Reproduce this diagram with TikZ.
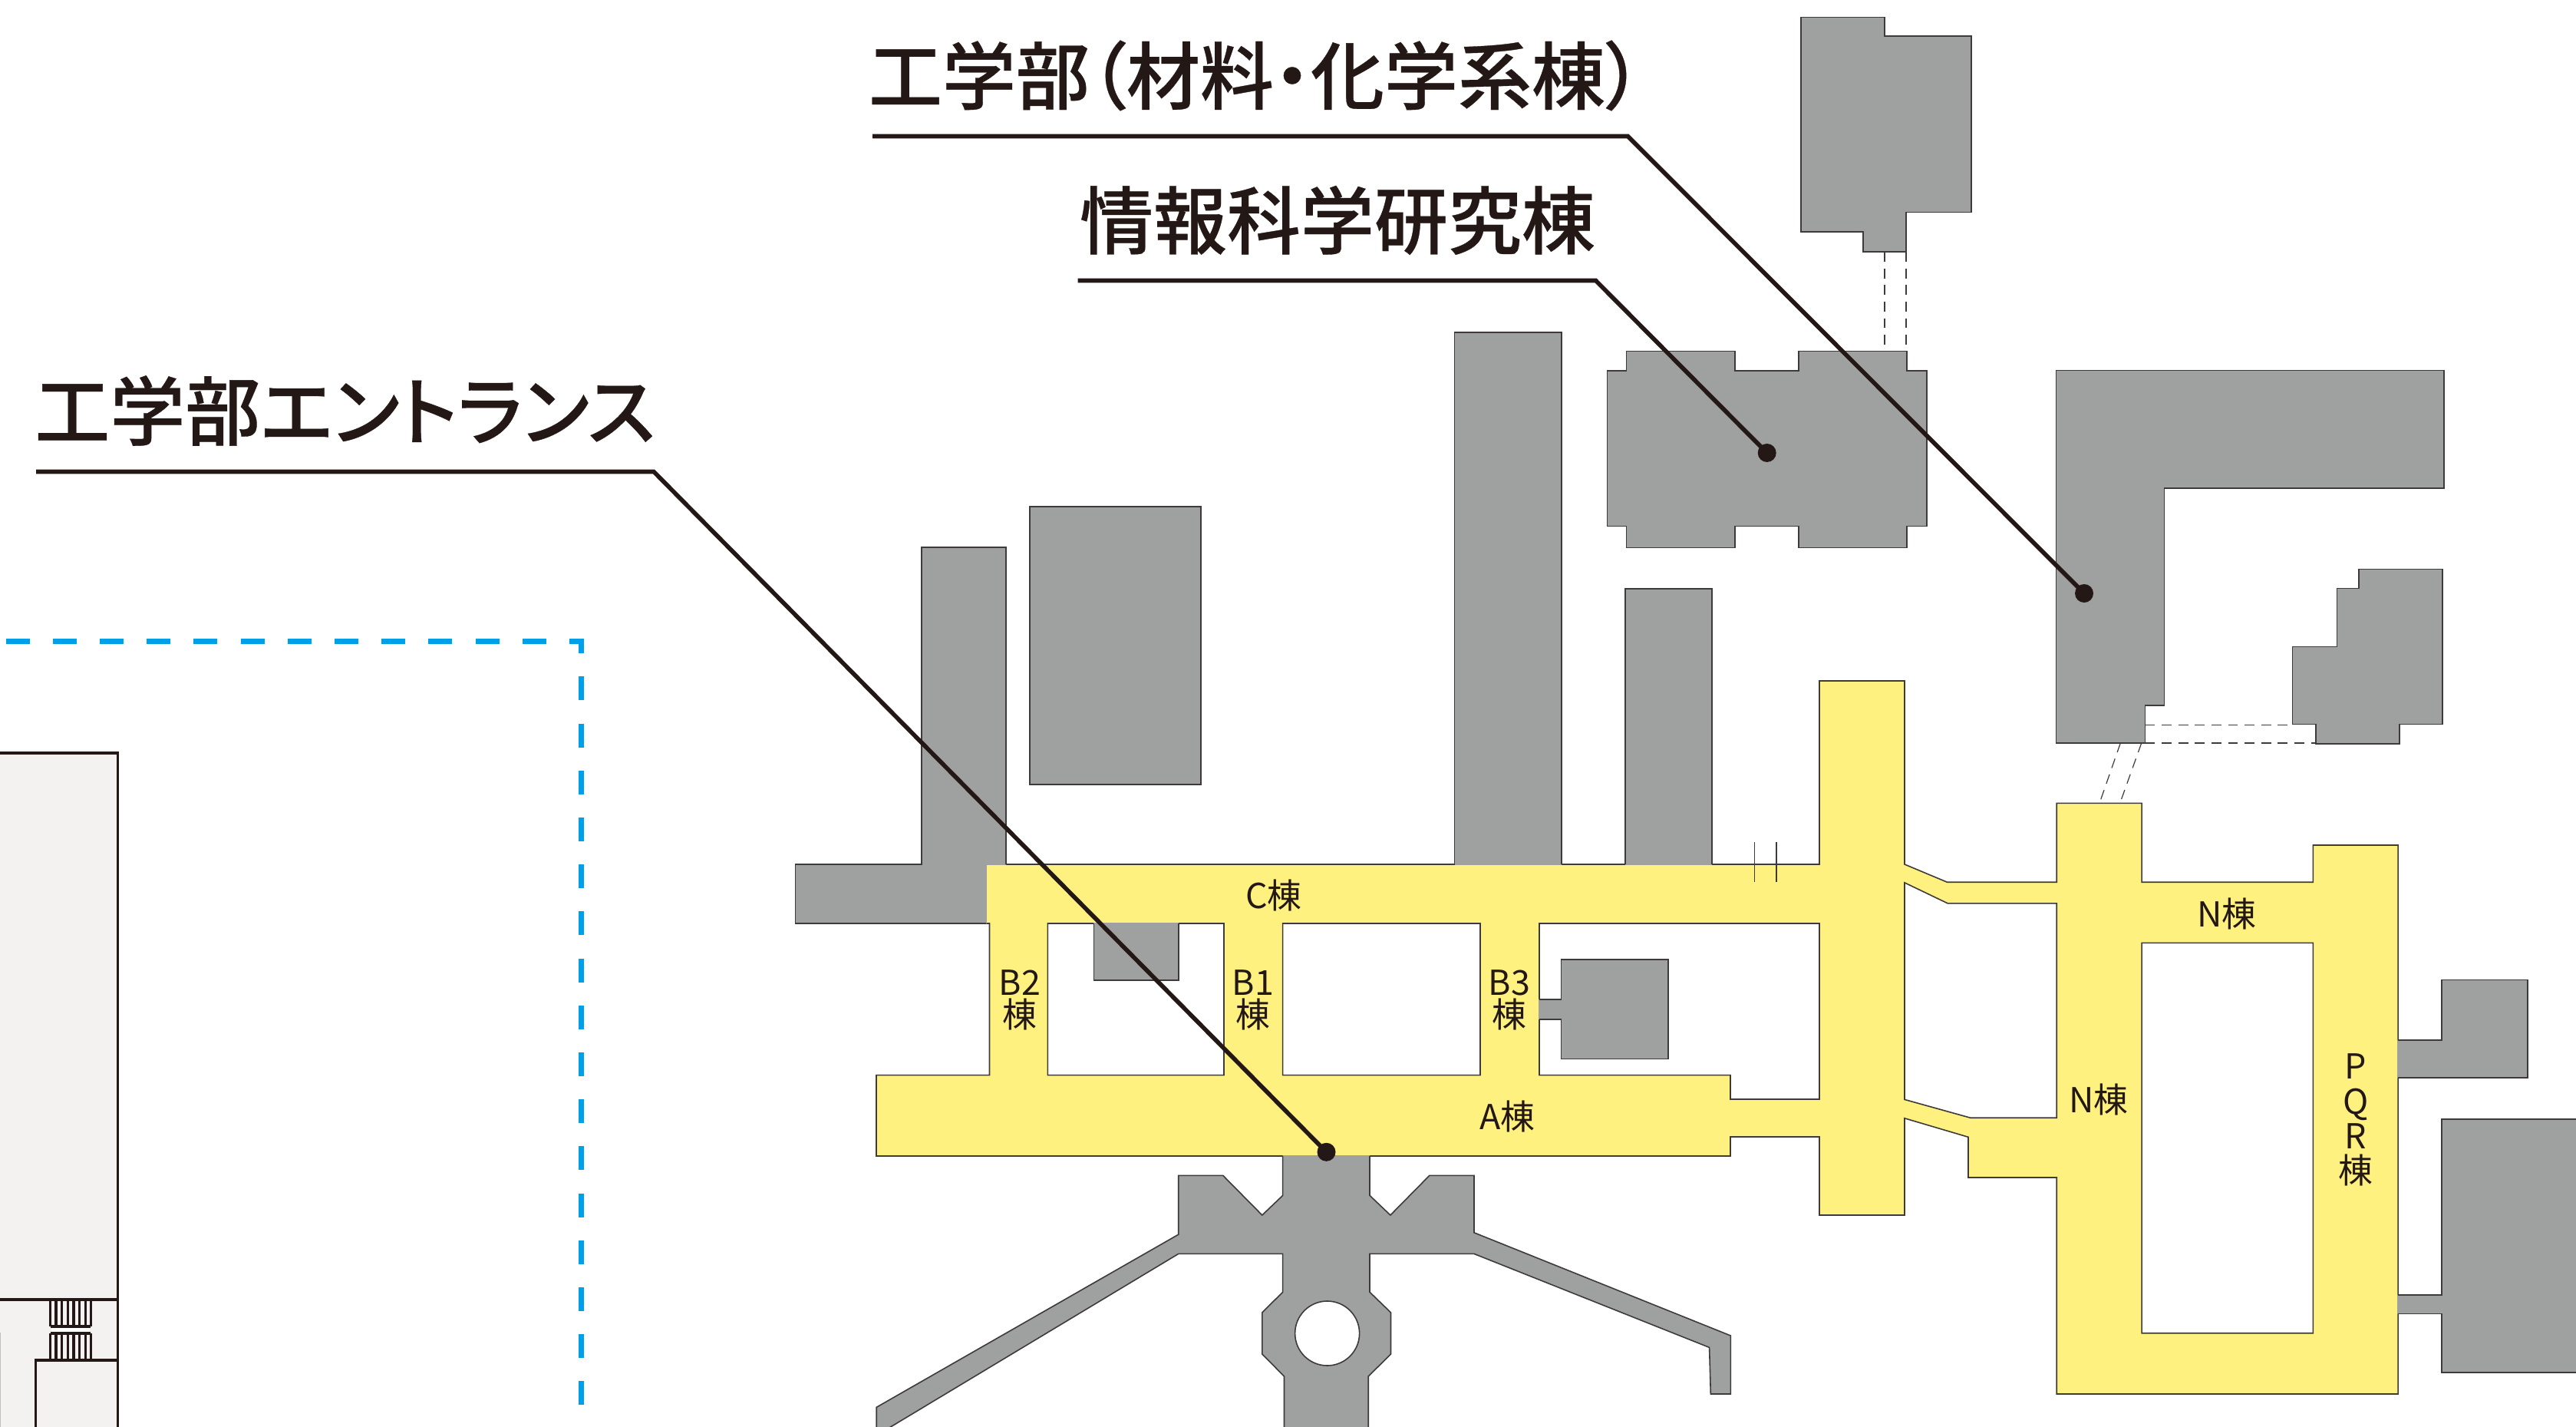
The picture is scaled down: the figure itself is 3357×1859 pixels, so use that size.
\documentclass[tikz,border=0pt]{standalone}
\usepackage{fontspec}
\setmainfont{Noto Sans CJK JP}
\newfontfamily\jphead[RawFeature={+palt},FakeBold=0.35]{Noto Sans CJK JP Medium}
\newfontfamily\jplab{Noto Sans CJK JP}
\definecolor{bldgray}{HTML}{9FA0A0}
\definecolor{wingyellow}{HTML}{FFF17F}
\definecolor{edgedark}{HTML}{3E3A39}
\definecolor{inkdark}{HTML}{231815}
\definecolor{roomfill}{HTML}{F3F2F0}
\definecolor{zoneblue}{HTML}{00A0E9}
\tikzset{
  edge/.style={draw=edgedark,line width=0.4pt,line join=miter},
  bld/.style={fill=bldgray,edge},
  grayfill/.style={fill=bldgray},
  passage/.style={draw=edgedark,line width=0.3pt,dash pattern=on 3.2pt off 2.2pt},
  tick/.style={draw=edgedark,line width=0.3pt},
  leader/.style={draw=inkdark,line width=1.4pt,line join=miter},
  dotmark/.style={fill=inkdark,draw=none},
  headlabel/.style={inner sep=0pt,text=inkdark,font=\jphead\fontsize{24}{24}\selectfont},
  headlabelwide/.style={headlabel,font=\jphead\fontsize{24.5}{24.5}\selectfont},
  wing/.style={inner sep=0pt,text=inkdark,align=center,font=\jplab\fontsize{11.2}{10.6}\selectfont},
  wingtall/.style={wing,font=\jplab\fontsize{11.2}{11.3}\selectfont},
  plan/.style={draw=inkdark,line width=0.8pt},
  zone/.style={draw=zoneblue,line width=1.65pt,dash pattern=on 7.75pt off 7.55pt,line join=miter},
}
\begin{document}
\begin{tikzpicture}[x=0.25pt,y=-0.25pt]
\useasboundingbox (0,0) rectangle (3357,1859);
\fill[white] (0,0) rectangle (3357,1859);
\clip (0,0) rectangle (3357,1859);

% zone boundary
\draw[zone] (7.6,835.8) -- (757.6,835.8) -- (757.6,1870);

% left building
\fill[roomfill] (-5,981) rectangle (153.7,1870);
\draw[plan] (-5,981) -- (153.7,981) -- (153.7,1870);
\draw[plan] (-5,1693) -- (153.7,1693);
\draw[plan] (65.7,1772) -- (153.7,1772);
\draw[plan] (46.7,1870) -- (46.7,1772) -- (65.7,1772);
\fill[white] (67,1728.5) rectangle (117,1736);
\foreach \sx in {65.7,73,80.7,88.3,96,103.7,111.3,118.3}{
  \draw[plan] (\sx,1693) -- (\sx,1728);
  \draw[plan] (\sx,1737) -- (\sx,1772);
}
\draw[plan] (65.7,1728) -- (118.3,1728);
\draw[plan] (65.7,1737) -- (118.3,1737);
\draw[draw=black!25,line width=0.25pt] (0.4,1736) -- (0.4,1870);

% yellow wings with their courts
\path[fill=wingyellow,even odd rule,edge]
  (1285,1126) -- (2371,1126) -- (2371,887) -- (2482,887) -- (2482,1126)
  -- (2537.4,1149.2) -- (2680.2,1149.2) -- (2680.2,1046.3) -- (2791,1046.3) -- (2791,1149.2)
  -- (3014.3,1149.2) -- (3014.3,1101) -- (3125,1101) -- (3125,1816) -- (2680.2,1816)
  -- (2680.2,1534) -- (2565,1534) -- (2565,1481.3) -- (2482,1456.8) -- (2482,1583)
  -- (2371,1583) -- (2371,1481) -- (2255,1481) -- (2255,1506) -- (1142,1506)
  -- (1142,1400.6) -- (1289.5,1400.6) -- (1289.5,1203) -- (1285,1203) -- cycle
  (1365.4,1203) rectangle (1595,1400.6)
  (1671.6,1203) rectangle (1929,1400.6)
  (2006,1203) -- (2371,1203) -- (2371,1432) -- (2255,1432) -- (2255,1400.6) -- (2006,1400.6) -- cycle
  (2791,1228.4) rectangle (3014.3,1736.7)
  (2482,1149.9) -- (2538.3,1176.9) -- (2680.2,1176.9) -- (2680.2,1456.2) -- (2567.7,1456.2) -- (2482,1432.4) -- cycle;

% gray buildings touching the wings
\fill[grayfill] (1201,713) -- (1311,713) -- (1311,1126.9) -- (1285.9,1126.9) -- (1285.9,1203) -- (1036.4,1203) -- (1036.4,1126) -- (1201,1126) -- cycle;
\draw[edge] (1285,1203) -- (1036.4,1203) -- (1036.4,1126) -- (1201,1126) -- (1201,713) -- (1311,713) -- (1311,1126);

\fill[grayfill] (1895.5,433) rectangle (2035,1126.9);
\draw[edge] (1895.5,1126) -- (1895.5,433) -- (2035,433) -- (2035,1126);
\fill[grayfill] (2118,767) rectangle (2231,1126.9);
\draw[edge] (2118,1126) -- (2118,767) -- (2231,767) -- (2231,1126);

\fill[grayfill] (1425.4,1202) rectangle (1535.7,1277);
\draw[edge] (1425.4,1203) -- (1425.4,1277) -- (1535.7,1277) -- (1535.7,1203);

\fill[grayfill] (2034.6,1250) -- (2174,1250) -- (2174,1379.6) -- (2034.6,1379.6) -- (2034.6,1328) -- (2005.1,1328) -- (2005.1,1301.7) -- (2034.6,1301.7) -- cycle;
\draw[edge] (2006,1301.7) -- (2034.6,1301.7) -- (2034.6,1250) -- (2174,1250) -- (2174,1379.6) -- (2034.6,1379.6) -- (2034.6,1328) -- (2006,1328);

\fill[grayfill] (3182,1276.6) -- (3293.8,1276.6) -- (3293.8,1404) -- (3124.1,1404) -- (3124.1,1355) -- (3182,1355) -- cycle;
\draw[edge] (3125,1355) -- (3182,1355) -- (3182,1276.6) -- (3293.8,1276.6) -- (3293.8,1404) -- (3125,1404);

\fill[grayfill] (3370,1458) -- (3182,1458) -- (3182,1687) -- (3124.1,1687) -- (3124.1,1711.6) -- (3182,1711.6) -- (3182,1788) -- (3370,1788) -- cycle;
\draw[edge] (3370,1458) -- (3182,1458) -- (3182,1687) -- (3125,1687);
\draw[edge] (3125,1711.6) -- (3182,1711.6) -- (3182,1788) -- (3370,1788);

% entrance plaza
\path[grayfill,even odd rule]
  (1671.6,1505.1) -- (1671.6,1557.4) -- (1644.8,1583) -- (1593.7,1531.3) -- (1535.7,1531.3) -- (1535.7,1608.2)
  -- (1142.2,1833.3) -- (1142.2,1870) -- (1535.7,1633.4) -- (1671.6,1633.4) -- (1671.6,1683.3)
  -- (1644.8,1709.9) -- (1644.8,1764) -- (1673.5,1793) -- (1673.5,1870) -- (1783.2,1870)
  -- (1783.2,1793) -- (1812.5,1764) -- (1812.5,1709.9) -- (1785,1683.3) -- (1785,1633.4)
  -- (1921,1633.4) -- (2227.6,1755.4) -- (2229.3,1816) -- (2255.3,1816) -- (2255.3,1740)
  -- (1921,1605.8) -- (1921,1531.3) -- (1862.9,1531.3) -- (1811.9,1583) -- (1785,1557.4) -- (1785,1505.1) -- cycle;
\draw[edge] (1671.6,1506) -- (1671.6,1557.4) -- (1644.8,1583) -- (1593.7,1531.3) -- (1535.7,1531.3) -- (1535.7,1608.2)
  -- (1142.2,1833.3) -- (1142.2,1870) -- (1535.7,1633.4) -- (1671.6,1633.4) -- (1671.6,1683.3)
  -- (1644.8,1709.9) -- (1644.8,1764) -- (1673.5,1793) -- (1673.5,1870);
\draw[edge] (1783.2,1870)
  -- (1783.2,1793) -- (1812.5,1764) -- (1812.5,1709.9) -- (1785,1683.3) -- (1785,1633.4)
  -- (1921,1633.4) -- (2227.6,1755.4) -- (2229.3,1816) -- (2255.3,1816) -- (2255.3,1740)
  -- (1921,1605.8) -- (1921,1531.3) -- (1862.9,1531.3) -- (1811.9,1583) -- (1785,1557.4) -- (1785,1506);
\draw[fill=white,edge] (1729.6,1737) circle [radius=42];

% free-standing buildings
\draw[bld] (1342,660) rectangle (1565,1022);
\draw[bld] (2119.6,457.4) -- (2260.7,457.4) -- (2260.7,483.3) -- (2343.8,483.3) -- (2343.8,457.4) -- (2484.8,457.4) -- (2484.8,483.3) -- (2510.7,483.3) -- (2510.7,685.4) -- (2484.8,685.4) -- (2484.8,713.4) -- (2343.8,713.4) -- (2343.8,685.4) -- (2260.7,685.4) -- (2260.7,713.4) -- (2119.6,713.4) -- (2119.6,685.4) -- (2094.6,685.4) -- (2094.6,483.3) -- (2119.6,483.3) -- cycle;
\draw[bld] (2347,22.4) -- (2456,22.4) -- (2456,47) -- (2569,47) -- (2569,276.4) -- (2484,276.4) -- (2484,328.3) -- (2427.7,328.3) -- (2427.7,302.3) -- (2347,302.3) -- cycle;
\draw[bld] (2679.5,482.6) -- (3185,482.6) -- (3185,636.3) -- (2820.5,636.3) -- (2820.5,919) -- (2795.5,919) -- (2795.5,968) -- (2679.5,968) -- cycle;
\draw[bld] (3074,741.5) -- (3183,741.5) -- (3183,943.5) -- (3127,943.5) -- (3127,968.8) -- (3018,968.8) -- (3018,943.5) -- (2987.5,943.5) -- (2987.5,842.5) -- (3045.5,842.5) -- (3045.5,766.7) -- (3074,766.7) -- cycle;

% covered passages
\draw[passage] (2456,328.3) -- (2456,457.4);
\draw[passage] (2484,328.3) -- (2484,457.4);
\draw[passage] (2795.5,944.4) -- (2987.5,944.4);
\draw[passage] (2795.5,968) -- (3018,968);
\draw[passage] (2763.3,968) -- (2736,1046.3);
\draw[passage] (2790.7,968) -- (2762.7,1046.3);
\draw[tick] (2286.5,1097) -- (2286.5,1149);
\draw[tick] (2315,1097) -- (2315,1149);

% wing labels
\node[wing] (wingC) at (1660,1166) {C棟};
\node[wing] (wingBtwo) at (1329,1303) {B2\\棟};
\node[wing] (wingBone) at (1633,1303) {B1\\棟};
\node[wing] (wingBthree) at (1967,1303) {B3\\棟};
\node[wing] (wingA) at (1964.5,1454) {A棟};
\node[wing] (wingNa) at (2902,1190) {N棟};
\node[wing] (wingNb) at (2735,1432) {N棟};
\node[wingtall] (wingPQR) at (3070,1459) {P\\Q\\R\\棟};

% callouts
\node[headlabelwide] (entrance) at (449.6,535) {工学部エントランス};
\node[headlabel] (materials) at (1636,98.5) {工学部（材料・化学系棟）};
\node[headlabel] (infosci) at (1743,287) {情報科学研究棟};
\coordinate (entrancestart) at (47,614.5);
\coordinate (entrancebend) at (852,614.5);
\coordinate (entrancedot) at (1728.5,1500.8);
\coordinate (materialsstart) at (1137,177.5);
\coordinate (materialsbend) at (2121.4,177.5);
\coordinate (materialsdot) at (2716,773);
\coordinate (infostart) at (1404.5,365.5);
\coordinate (infobend) at (2079.5,365.5);
\coordinate (infodot) at (2302.7,590);
\draw[leader] (entrancestart) -- (entrancebend) -- (entrancedot);
\draw[leader] (materialsstart) -- (materialsbend) -- (materialsdot);
\draw[leader] (infostart) -- (infobend) -- (infodot);
\fill[dotmark] (entrancedot) circle [radius=12];
\fill[dotmark] (materialsdot) circle [radius=12];
\fill[dotmark] (infodot) circle [radius=12];
\end{tikzpicture}
\end{document}
